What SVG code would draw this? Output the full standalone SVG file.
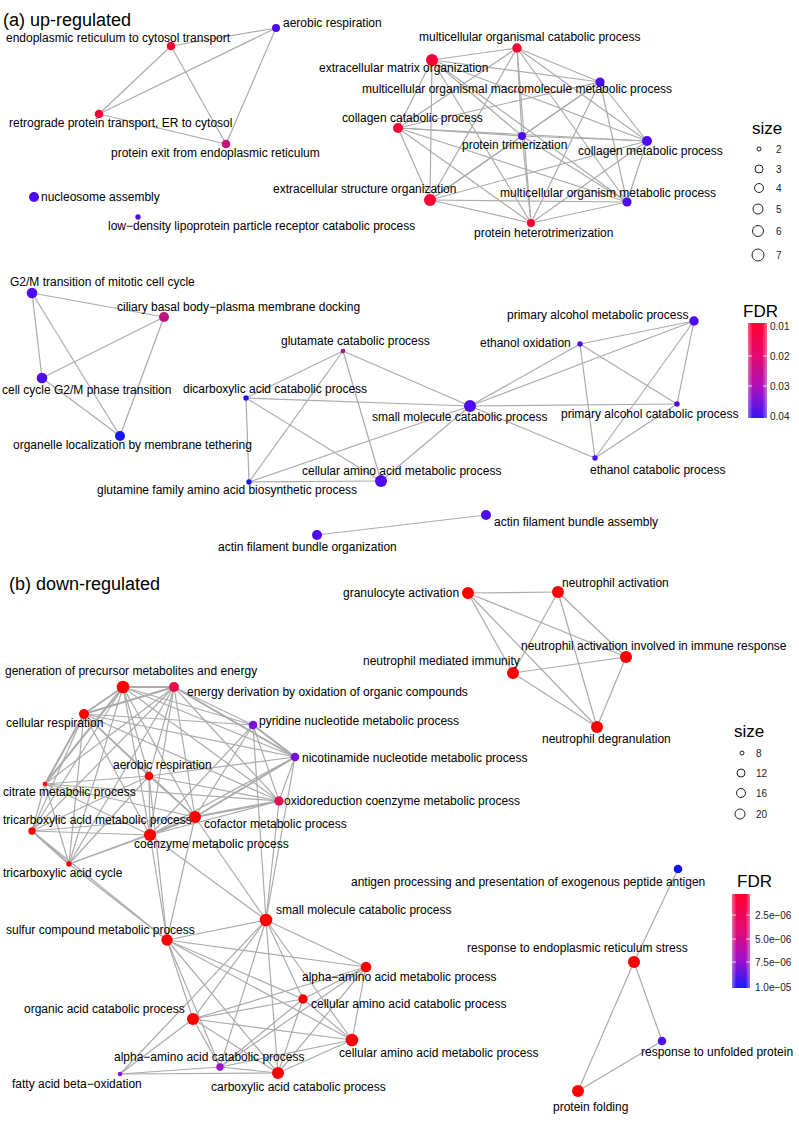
<svg xmlns="http://www.w3.org/2000/svg" width="799" height="1124" viewBox="0 0 799 1124">
<defs>
<style>
.e{stroke:#ABABAB;stroke-width:1.2;fill:none}
.w{stroke-width:2}
text{font-family:"Liberation Sans",Arial,sans-serif;fill:#000}
.l{font-size:12px}
.t{font-size:18px}
.lt{font-size:17px}
.lk{font-size:10px;fill:#222}
.sz{fill:none;stroke:#222;stroke-width:1}
.R{fill:#FA0035}
.RB{fill:#FF0000}
.BP{fill:#4E0BF2}
.BL{fill:#1616F4}
.MG{fill:#C3127F}
.MP{fill:#A51092}
.PU{fill:#7A10D8}
.CR{fill:#EA0A44}
.OX{fill:#E5105A}
.AP{fill:#9512C8}
.FP{fill:#8A12D0}
.UB{fill:#5010E8}
</style>
<linearGradient id="gA" x1="0" y1="0" x2="0" y2="1">
<stop offset="0" stop-color="#FF0030"/>
<stop offset="0.33" stop-color="#E8086A"/>
<stop offset="0.66" stop-color="#B00FB5"/>
<stop offset="1" stop-color="#3A14FF"/>
</linearGradient>
<linearGradient id="gB" x1="0" y1="0" x2="0" y2="1">
<stop offset="0" stop-color="#FF0030"/>
<stop offset="0.4" stop-color="#E20A78"/>
<stop offset="0.7" stop-color="#A010C8"/>
<stop offset="1" stop-color="#1A1AFF"/>
</linearGradient>
<linearGradient id="gW" x1="0" y1="0" x2="1" y2="0">
<stop offset="0" stop-color="#fff" stop-opacity="0.4"/>
<stop offset="0.25" stop-color="#fff" stop-opacity="0"/>
<stop offset="0.75" stop-color="#fff" stop-opacity="0"/>
<stop offset="1" stop-color="#fff" stop-opacity="0.4"/>
</linearGradient>
</defs>
<rect width="799" height="1124" fill="#fff"/>
<text class="t" x="3" y="26">(a) up-regulated</text>
<text class="t" x="9" y="590">(b) down-regulated</text>

<g id="connectors">
<!-- (a) group 1 -->
<line class="e" x1="171" y1="46" x2="276" y2="28"/>
<line class="e" x1="171" y1="46" x2="99" y2="114"/>
<line class="e" x1="171" y1="46" x2="226" y2="144"/>
<line class="e" x1="99" y1="114" x2="276" y2="28"/>
<line class="e" x1="99" y1="114" x2="226" y2="144"/>
<line class="e" x1="276" y1="28" x2="226" y2="144"/>
<!-- (a) cluster 2 -->
<line class="e" x1="517" y1="48" x2="432" y2="60"/>
<line class="e" x1="517" y1="48" x2="600" y2="82"/>
<line class="e" x1="517" y1="48" x2="398" y2="128"/>
<line class="e" x1="517" y1="48" x2="522" y2="136"/>
<line class="e" x1="517" y1="48" x2="647" y2="141"/>
<line class="e" x1="517" y1="48" x2="430" y2="200"/>
<line class="e" x1="517" y1="48" x2="627" y2="202"/>
<line class="e" x1="517" y1="48" x2="531" y2="223"/>
<line class="e" x1="432" y1="60" x2="600" y2="82"/>
<line class="e" x1="432" y1="60" x2="398" y2="128"/>
<line class="e" x1="432" y1="60" x2="522" y2="136"/>
<line class="e" x1="432" y1="60" x2="647" y2="141"/>
<line class="e" x1="432" y1="60" x2="430" y2="200"/>
<line class="e" x1="432" y1="60" x2="627" y2="202"/>
<line class="e" x1="432" y1="60" x2="531" y2="223"/>
<line class="e" x1="600" y1="82" x2="398" y2="128"/>
<line class="e" x1="600" y1="82" x2="522" y2="136"/>
<line class="e" x1="600" y1="82" x2="647" y2="141"/>
<line class="e" x1="600" y1="82" x2="430" y2="200"/>
<line class="e" x1="600" y1="82" x2="627" y2="202"/>
<line class="e" x1="600" y1="82" x2="531" y2="223"/>
<line class="e" x1="398" y1="128" x2="522" y2="136"/>
<line class="e" x1="398" y1="128" x2="647" y2="141"/>
<line class="e" x1="398" y1="128" x2="430" y2="200"/>
<line class="e" x1="398" y1="128" x2="627" y2="202"/>
<line class="e" x1="398" y1="128" x2="531" y2="223"/>
<line class="e" x1="522" y1="136" x2="647" y2="141"/>
<line class="e" x1="522" y1="136" x2="430" y2="200"/>
<line class="e" x1="522" y1="136" x2="627" y2="202"/>
<line class="e" x1="522" y1="136" x2="531" y2="223"/>
<line class="e" x1="647" y1="141" x2="430" y2="200"/>
<line class="e" x1="647" y1="141" x2="627" y2="202"/>
<line class="e" x1="647" y1="141" x2="531" y2="223"/>
<line class="e" x1="430" y1="200" x2="627" y2="202"/>
<line class="e" x1="430" y1="200" x2="531" y2="223"/>
<line class="e" x1="627" y1="202" x2="531" y2="223"/>
<!-- (a) cluster 3 -->
<line class="e" x1="32" y1="293" x2="164" y2="317"/>
<line class="e" x1="32" y1="293" x2="42" y2="378"/>
<line class="e" x1="32" y1="293" x2="120" y2="436"/>
<line class="e" x1="164" y1="317" x2="42" y2="378"/>
<line class="e" x1="164" y1="317" x2="120" y2="436"/>
<line class="e" x1="42" y1="378" x2="120" y2="436"/>
<!-- (a) cluster 4 -->
<line class="e" x1="343" y1="351" x2="246" y2="398"/>
<line class="e" x1="343" y1="351" x2="249" y2="482"/>
<line class="e" x1="343" y1="351" x2="381" y2="481"/>
<line class="e" x1="343" y1="351" x2="470" y2="406"/>
<line class="e" x1="246" y1="398" x2="470" y2="406"/>
<line class="e" x1="246" y1="398" x2="249" y2="482"/>
<line class="e" x1="246" y1="398" x2="381" y2="481"/>
<line class="e" x1="249" y1="482" x2="381" y2="481"/>
<line class="e" x1="249" y1="482" x2="470" y2="406"/>
<line class="e" x1="381" y1="481" x2="470" y2="406"/>
<line class="e" x1="470" y1="406" x2="580" y2="344"/>
<line class="e" x1="470" y1="406" x2="694" y2="321"/>
<line class="e" x1="470" y1="406" x2="677" y2="404"/>
<line class="e" x1="470" y1="406" x2="595" y2="458"/>
<line class="e" x1="580" y1="344" x2="694" y2="321"/>
<line class="e" x1="580" y1="344" x2="677" y2="404"/>
<line class="e" x1="580" y1="344" x2="595" y2="458"/>
<line class="e" x1="694" y1="321" x2="677" y2="404"/>
<line class="e" x1="694" y1="321" x2="595" y2="458"/>
<line class="e" x1="677" y1="404" x2="595" y2="458"/>
<!-- (a) actin -->
<line class="e" x1="317" y1="535" x2="486" y2="515"/>

<!-- (b) neutrophil -->
<line class="e" x1="468" y1="593" x2="558" y2="592"/>
<line class="e" x1="468" y1="593" x2="626" y2="657"/>
<line class="e" x1="468" y1="593" x2="513" y2="673"/>
<line class="e" x1="468" y1="593" x2="597" y2="727"/>
<line class="e" x1="558" y1="592" x2="626" y2="657"/>
<line class="e" x1="558" y1="592" x2="513" y2="673"/>
<line class="e" x1="558" y1="592" x2="597" y2="727"/>
<line class="e" x1="626" y1="657" x2="513" y2="673"/>
<line class="e" x1="626" y1="657" x2="597" y2="727"/>
<line class="e" x1="513" y1="673" x2="597" y2="727"/>
<!-- (b) right small -->
<line class="e" x1="678" y1="869" x2="634" y2="962"/>
<line class="e" x1="634" y1="962" x2="662" y2="1041"/>
<line class="e" x1="634" y1="962" x2="578" y2="1091"/>
<line class="e" x1="662" y1="1041" x2="578" y2="1091"/>
<!-- (b) top subcluster -->
<line class="e w" x1="123" y1="687" x2="174" y2="687"/>
<line class="e w" x1="123" y1="687" x2="84" y2="714"/>
<line class="e" x1="123" y1="687" x2="253" y2="725"/>
<line class="e" x1="123" y1="687" x2="295" y2="757"/>
<line class="e" x1="123" y1="687" x2="149" y2="776"/>
<line class="e w" x1="123" y1="687" x2="45" y2="784"/>
<line class="e" x1="123" y1="687" x2="279" y2="801"/>
<line class="e" x1="123" y1="687" x2="32" y2="831"/>
<line class="e" x1="123" y1="687" x2="195" y2="817"/>
<line class="e" x1="123" y1="687" x2="150" y2="835"/>
<line class="e" x1="123" y1="687" x2="69" y2="864"/>
<line class="e w" x1="174" y1="687" x2="84" y2="714"/>
<line class="e" x1="174" y1="687" x2="253" y2="725"/>
<line class="e w" x1="174" y1="687" x2="295" y2="757"/>
<line class="e" x1="174" y1="687" x2="149" y2="776"/>
<line class="e" x1="174" y1="687" x2="45" y2="784"/>
<line class="e" x1="174" y1="687" x2="279" y2="801"/>
<line class="e" x1="174" y1="687" x2="32" y2="831"/>
<line class="e" x1="174" y1="687" x2="195" y2="817"/>
<line class="e" x1="174" y1="687" x2="150" y2="835"/>
<line class="e" x1="174" y1="687" x2="69" y2="864"/>
<line class="e" x1="84" y1="714" x2="253" y2="725"/>
<line class="e" x1="84" y1="714" x2="295" y2="757"/>
<line class="e" x1="84" y1="714" x2="149" y2="776"/>
<line class="e w" x1="84" y1="714" x2="45" y2="784"/>
<line class="e" x1="84" y1="714" x2="279" y2="801"/>
<line class="e" x1="84" y1="714" x2="32" y2="831"/>
<line class="e" x1="84" y1="714" x2="195" y2="817"/>
<line class="e" x1="84" y1="714" x2="150" y2="835"/>
<line class="e" x1="84" y1="714" x2="69" y2="864"/>
<line class="e w" x1="253" y1="725" x2="295" y2="757"/>
<line class="e" x1="253" y1="725" x2="279" y2="801"/>
<line class="e" x1="253" y1="725" x2="195" y2="817"/>
<line class="e" x1="253" y1="725" x2="150" y2="835"/>
<line class="e" x1="295" y1="757" x2="279" y2="801"/>
<line class="e w" x1="295" y1="757" x2="195" y2="817"/>
<line class="e" x1="295" y1="757" x2="150" y2="835"/>
<line class="e" x1="295" y1="757" x2="149" y2="776"/>
<line class="e" x1="149" y1="776" x2="45" y2="784"/>
<line class="e" x1="149" y1="776" x2="279" y2="801"/>
<line class="e" x1="149" y1="776" x2="32" y2="831"/>
<line class="e" x1="149" y1="776" x2="195" y2="817"/>
<line class="e" x1="149" y1="776" x2="150" y2="835"/>
<line class="e" x1="149" y1="776" x2="69" y2="864"/>
<line class="e" x1="45" y1="784" x2="32" y2="831"/>
<line class="e" x1="45" y1="784" x2="69" y2="864"/>
<line class="e" x1="45" y1="784" x2="195" y2="817"/>
<line class="e" x1="45" y1="784" x2="150" y2="835"/>
<line class="e" x1="45" y1="784" x2="279" y2="801"/>
<line class="e w" x1="279" y1="801" x2="195" y2="817"/>
<line class="e" x1="279" y1="801" x2="150" y2="835"/>
<line class="e w" x1="32" y1="831" x2="69" y2="864"/>
<line class="e" x1="32" y1="831" x2="195" y2="817"/>
<line class="e" x1="32" y1="831" x2="150" y2="835"/>
<line class="e w" x1="195" y1="817" x2="150" y2="835"/>
<line class="e" x1="195" y1="817" x2="69" y2="864"/>
<line class="e" x1="150" y1="835" x2="69" y2="864"/>
<!-- (b) cross -->
<line class="e" x1="266" y1="920" x2="253" y2="725"/>
<line class="e" x1="266" y1="920" x2="295" y2="757"/>
<line class="e" x1="266" y1="920" x2="279" y2="801"/>
<line class="e" x1="266" y1="920" x2="150" y2="835"/>
<line class="e" x1="266" y1="920" x2="195" y2="817"/>
<line class="e" x1="167" y1="940" x2="69" y2="864"/>
<line class="e" x1="167" y1="940" x2="32" y2="831"/>
<line class="e" x1="167" y1="940" x2="149" y2="776"/>
<line class="e" x1="167" y1="940" x2="150" y2="835"/>
<line class="e" x1="167" y1="940" x2="195" y2="817"/>
<!-- (b) bottom subcluster -->
<line class="e" x1="266" y1="920" x2="167" y2="940"/>
<line class="e" x1="266" y1="920" x2="366" y2="967"/>
<line class="e" x1="266" y1="920" x2="303" y2="999"/>
<line class="e" x1="266" y1="920" x2="193" y2="1019"/>
<line class="e" x1="266" y1="920" x2="352" y2="1040"/>
<line class="e" x1="266" y1="920" x2="220" y2="1067"/>
<line class="e" x1="266" y1="920" x2="120" y2="1074"/>
<line class="e" x1="266" y1="920" x2="278" y2="1073"/>
<line class="e" x1="167" y1="940" x2="366" y2="967"/>
<line class="e" x1="167" y1="940" x2="303" y2="999"/>
<line class="e" x1="167" y1="940" x2="193" y2="1019"/>
<line class="e" x1="167" y1="940" x2="352" y2="1040"/>
<line class="e" x1="167" y1="940" x2="220" y2="1067"/>
<line class="e" x1="167" y1="940" x2="278" y2="1073"/>
<line class="e" x1="366" y1="967" x2="193" y2="1019"/>
<line class="e" x1="366" y1="967" x2="303" y2="999"/>
<line class="e" x1="366" y1="967" x2="220" y2="1067"/>
<line class="e" x1="366" y1="967" x2="278" y2="1073"/>
<line class="e" x1="366" y1="967" x2="352" y2="1040"/>
<line class="e" x1="303" y1="999" x2="193" y2="1019"/>
<line class="e" x1="303" y1="999" x2="352" y2="1040"/>
<line class="e" x1="303" y1="999" x2="220" y2="1067"/>
<line class="e" x1="303" y1="999" x2="278" y2="1073"/>
<line class="e" x1="193" y1="1019" x2="352" y2="1040"/>
<line class="e" x1="193" y1="1019" x2="220" y2="1067"/>
<line class="e" x1="193" y1="1019" x2="278" y2="1073"/>
<line class="e" x1="193" y1="1019" x2="120" y2="1074"/>
<line class="e" x1="352" y1="1040" x2="220" y2="1067"/>
<line class="e" x1="352" y1="1040" x2="278" y2="1073"/>
<line class="e" x1="220" y1="1067" x2="278" y2="1073"/>
<line class="e" x1="220" y1="1067" x2="120" y2="1074"/>
<line class="e" x1="278" y1="1073" x2="120" y2="1074"/>
</g>

<!-- (a) nodes -->
<g id="a_endo"><circle class="R" cx="171" cy="46" r="4.3"/><text class="l" x="6" y="42">endoplasmic reticulum to cytosol transport</text></g>
<g id="a_aerobic"><circle class="BP" cx="276" cy="28" r="4"/><text class="l" x="283" y="27">aerobic respiration</text></g>
<g id="a_retro"><circle class="R" cx="99" cy="114" r="4.3"/><text class="l" x="9" y="127">retrograde protein transport, ER to cytosol</text></g>
<g id="a_exit"><circle class="MG" cx="226" cy="144" r="4.3"/><text class="l" x="111" y="157">protein exit from endoplasmic reticulum</text></g>
<g id="a_nucleosome"><circle class="BP" cx="34" cy="197" r="5"/><text class="l" x="41" y="201">nucleosome assembly</text></g>
<g id="a_ldl"><circle class="BP" cx="138" cy="217" r="2.7"/><text class="l" x="108" y="230">low−density lipoprotein particle receptor catabolic process</text></g>
<g id="a_moc"><circle class="R" cx="517" cy="48" r="4.7"/><text class="l" x="419" y="41">multicellular organismal catabolic process</text></g>
<g id="a_ecm"><circle class="R" cx="432" cy="60" r="6"/><text class="l" x="319" y="72">extracellular matrix organization</text></g>
<g id="a_momm"><circle class="BP" cx="600" cy="82" r="4.6"/><text class="l" x="362" y="93">multicellular organismal macromolecule metabolic process</text></g>
<g id="a_colcat"><circle class="R" cx="398" cy="128" r="5"/><text class="l" x="342" y="122">collagen catabolic process</text></g>
<g id="a_trim"><circle class="BP" cx="522" cy="136" r="4"/><text class="l" x="462" y="149">protein trimerization</text></g>
<g id="a_colmet"><circle class="BP" cx="647" cy="141" r="5"/><text class="l" x="578" y="155">collagen metabolic process</text></g>
<g id="a_eso"><circle class="R" cx="430" cy="200" r="6"/><text class="l" x="273" y="193">extracellular structure organization</text></g>
<g id="a_momp"><circle class="BP" cx="627" cy="202" r="4.6"/><text class="l" x="500" y="197">multicellular organism metabolic process</text></g>
<g id="a_het"><circle class="R" cx="531" cy="223" r="4"/><text class="l" x="474" y="237">protein heterotrimerization</text></g>
<g id="a_g2m"><circle class="BP" cx="32" cy="293" r="5.3"/><text class="l" x="10" y="286">G2/M transition of mitotic cell cycle</text></g>
<g id="a_ciliary"><circle class="MG" cx="164" cy="317" r="5"/><text class="l" x="117" y="311">ciliary basal body−plasma membrane docking</text></g>
<g id="a_cellcycle"><circle class="BP" cx="42" cy="378" r="5.3"/><text class="l" x="2" y="394">cell cycle G2/M phase transition</text></g>
<g id="a_organelle"><circle class="BL" cx="120" cy="436" r="5"/><text class="l" x="13" y="449">organelle localization by membrane tethering</text></g>
<g id="a_glutamate"><circle class="MP" cx="343" cy="351" r="2.3"/><text class="l" x="281" y="345">glutamate catabolic process</text></g>
<g id="a_dicarb"><circle class="BL" cx="246" cy="398" r="2.7"/><text class="l" x="183" y="393">dicarboxylic acid catabolic process</text></g>
<g id="a_smallmol"><circle class="BP" cx="470" cy="406" r="6"/><text class="l" x="372" y="421">small molecule catabolic process</text></g>
<g id="a_cellaa"><circle class="BP" cx="381" cy="481" r="6"/><text class="l" x="302" y="475">cellular amino acid metabolic process</text></g>
<g id="a_glutamine"><circle class="BL" cx="249" cy="482" r="2.7"/><text class="l" x="97" y="494">glutamine family amino acid biosynthetic process</text></g>
<g id="a_pam"><circle class="BP" cx="694" cy="321" r="4.7"/><text class="l" x="507" y="319">primary alcohol metabolic process</text></g>
<g id="a_eox"><circle class="BP" cx="580" cy="344" r="2.7"/><text class="l" x="480" y="347">ethanol oxidation</text></g>
<g id="a_pac"><circle class="BP" cx="677" cy="404" r="2.7"/><text class="l" x="561" y="418">primary alcohol catabolic process</text></g>
<g id="a_ecp"><circle class="BP" cx="595" cy="458" r="2.7"/><text class="l" x="590" y="474">ethanol catabolic process</text></g>
<g id="a_afo"><circle class="BP" cx="317" cy="535" r="5"/><text class="l" x="218" y="551">actin filament bundle organization</text></g>
<g id="a_afa"><circle class="BP" cx="486" cy="515" r="5"/><text class="l" x="494" y="526">actin filament bundle assembly</text></g>

<!-- (a) legends -->
<g id="a_size_legend">
<text class="lt" x="752" y="134">size</text>
<circle class="sz" cx="759" cy="149" r="2"/><text class="lk" x="776" y="152.5">2</text>
<circle class="sz" cx="759" cy="169" r="4"/><text class="lk" x="776" y="172.5">3</text>
<circle class="sz" cx="759" cy="188" r="4.5"/><text class="lk" x="776" y="191.5">4</text>
<circle class="sz" cx="758" cy="209" r="5"/><text class="lk" x="776" y="212.5">5</text>
<circle class="sz" cx="758" cy="231" r="5.5"/><text class="lk" x="776" y="234.5">6</text>
<circle class="sz" cx="758" cy="255" r="6"/><text class="lk" x="776" y="258.5">7</text>
</g>
<g id="a_fdr_legend">
<text class="lt" x="743" y="317">FDR</text>
<rect x="748" y="323" width="19" height="95" fill="url(#gA)"/>
<rect x="748" y="323" width="19" height="95" fill="url(#gW)"/>
<g stroke="#fff" stroke-width="1" opacity="0.8">
<line x1="748" y1="356" x2="752" y2="356"/><line x1="763" y1="356" x2="767" y2="356"/>
<line x1="748" y1="386" x2="752" y2="386"/><line x1="763" y1="386" x2="767" y2="386"/>
</g>
<text class="lk" x="770" y="330">0.01</text>
<text class="lk" x="770" y="360">0.02</text>
<text class="lk" x="770" y="390">0.03</text>
<text class="lk" x="770" y="420">0.04</text>
</g>

<!-- (b) nodes -->
<g id="b_gran"><circle class="RB" cx="468" cy="593" r="6"/><text class="l" x="343" y="597">granulocyte activation</text></g>
<g id="b_na"><circle class="RB" cx="558" cy="592" r="6"/><text class="l" x="562" y="587">neutrophil activation</text></g>
<g id="b_naiir"><circle class="RB" cx="626" cy="657" r="6"/><text class="l" x="521" y="650">neutrophil activation involved in immune response</text></g>
<g id="b_nmi"><circle class="RB" cx="513" cy="673" r="6"/><text class="l" x="363" y="665">neutrophil mediated immunity</text></g>
<g id="b_degran"><circle class="RB" cx="597" cy="727" r="6"/><text class="l" x="542" y="743">neutrophil degranulation</text></g>
<g id="b_gen"><circle class="RB" cx="123" cy="687" r="6.3"/><text class="l" x="5" y="675">generation of precursor metabolites and energy</text></g>
<g id="b_energy"><circle class="CR" cx="174" cy="687" r="5"/><text class="l" x="187" y="696">energy derivation by oxidation of organic compounds</text></g>
<g id="b_cellresp"><circle class="RB" cx="84" cy="714" r="5"/><text class="l" x="6" y="727">cellular respiration</text></g>
<g id="b_pyridine"><circle class="PU" cx="253" cy="725" r="4.3"/><text class="l" x="259" y="725">pyridine nucleotide metabolic process</text></g>
<g id="b_nicotinamide"><circle class="PU" cx="295" cy="757" r="4.3"/><text class="l" x="302" y="762">nicotinamide nucleotide metabolic process</text></g>
<g id="b_aerobic"><circle class="RB" cx="149" cy="776" r="4.3"/><text class="l" x="113" y="769">aerobic respiration</text></g>
<g id="b_citrate"><circle class="RB" cx="45" cy="784" r="2.3"/><text class="l" x="3" y="796">citrate metabolic process</text></g>
<g id="b_oxido"><circle class="OX" cx="279" cy="801" r="4.7"/><text class="l" x="284" y="805">oxidoreduction coenzyme metabolic process</text></g>
<g id="b_tcametab"><circle class="RB" cx="32" cy="831" r="3.7"/><text class="l" x="3" y="824">tricarboxylic acid metabolic process</text></g>
<g id="b_cofactor"><circle class="RB" cx="195" cy="817" r="6"/><text class="l" x="204" y="828">cofactor metabolic process</text></g>
<g id="b_coenzyme"><circle class="RB" cx="150" cy="835" r="6"/><text class="l" x="134" y="848">coenzyme metabolic process</text></g>
<g id="b_tcacycle"><circle class="RB" cx="69" cy="864" r="2.7"/><text class="l" x="3" y="877">tricarboxylic acid cycle</text></g>
<g id="b_smallmol"><circle class="RB" cx="266" cy="920" r="6.3"/><text class="l" x="276" y="914">small molecule catabolic process</text></g>
<g id="b_sulfur"><circle class="RB" cx="167" cy="940" r="5.7"/><text class="l" x="6" y="934">sulfur compound metabolic process</text></g>
<g id="b_aam"><circle class="RB" cx="366" cy="967" r="5.3"/><text class="l" x="302" y="981">alpha−amino acid metabolic process</text></g>
<g id="b_cac"><circle class="RB" cx="303" cy="999" r="4.7"/><text class="l" x="311" y="1008">cellular amino acid catabolic process</text></g>
<g id="b_oac"><circle class="RB" cx="193" cy="1019" r="6"/><text class="l" x="24" y="1013">organic acid catabolic process</text></g>
<g id="b_cam"><circle class="RB" cx="352" cy="1040" r="6.3"/><text class="l" x="339" y="1057">cellular amino acid metabolic process</text></g>
<g id="b_aac"><circle class="AP" cx="220" cy="1067" r="3.7"/><text class="l" x="114" y="1061">alpha−amino acid catabolic process</text></g>
<g id="b_fatty"><circle class="FP" cx="120" cy="1074" r="2.3"/><text class="l" x="12" y="1088">fatty acid beta−oxidation</text></g>
<g id="b_carbox"><circle class="RB" cx="278" cy="1073" r="6"/><text class="l" x="211" y="1091">carboxylic acid catabolic process</text></g>
<g id="b_antigen"><circle class="BL" cx="678" cy="869" r="4.3"/><text class="l" x="351" y="886">antigen processing and presentation of exogenous peptide antigen</text></g>
<g id="b_erstress"><circle class="RB" cx="634" cy="962" r="6"/><text class="l" x="467" y="952">response to endoplasmic reticulum stress</text></g>
<g id="b_unfolded"><circle class="UB" cx="662" cy="1041" r="4.3"/><text class="l" x="641" y="1056">response to unfolded protein</text></g>
<g id="b_folding"><circle class="RB" cx="578" cy="1091" r="6"/><text class="l" x="553" y="1111">protein folding</text></g>

<!-- (b) legends -->
<g id="b_size_legend">
<text class="lt" x="734" y="737">size</text>
<circle class="sz" cx="742" cy="753" r="2"/><text class="lk" x="756" y="756.5">8</text>
<circle class="sz" cx="741" cy="773" r="4"/><text class="lk" x="756" y="776.5">12</text>
<circle class="sz" cx="741" cy="793" r="4.5"/><text class="lk" x="756" y="796.5">16</text>
<circle class="sz" cx="740" cy="814" r="5"/><text class="lk" x="756" y="817.5">20</text>
</g>
<g id="b_fdr_legend">
<text class="lt" x="737" y="887">FDR</text>
<rect x="732" y="894" width="18" height="94" fill="url(#gB)"/>
<rect x="732" y="894" width="18" height="94" fill="url(#gW)"/>
<g stroke="#fff" stroke-width="1" opacity="0.8">
<line x1="732" y1="915" x2="736" y2="915"/><line x1="746" y1="915" x2="750" y2="915"/>
<line x1="732" y1="939" x2="736" y2="939"/><line x1="746" y1="939" x2="750" y2="939"/>
<line x1="732" y1="962" x2="736" y2="962"/><line x1="746" y1="962" x2="750" y2="962"/>
</g>
<text class="lk" x="755" y="918.5">2.5e−06</text>
<text class="lk" x="755" y="942.5">5.0e−06</text>
<text class="lk" x="755" y="965.5">7.5e−06</text>
<text class="lk" x="755" y="990.5">1.0e−05</text>
</g>
</svg>
